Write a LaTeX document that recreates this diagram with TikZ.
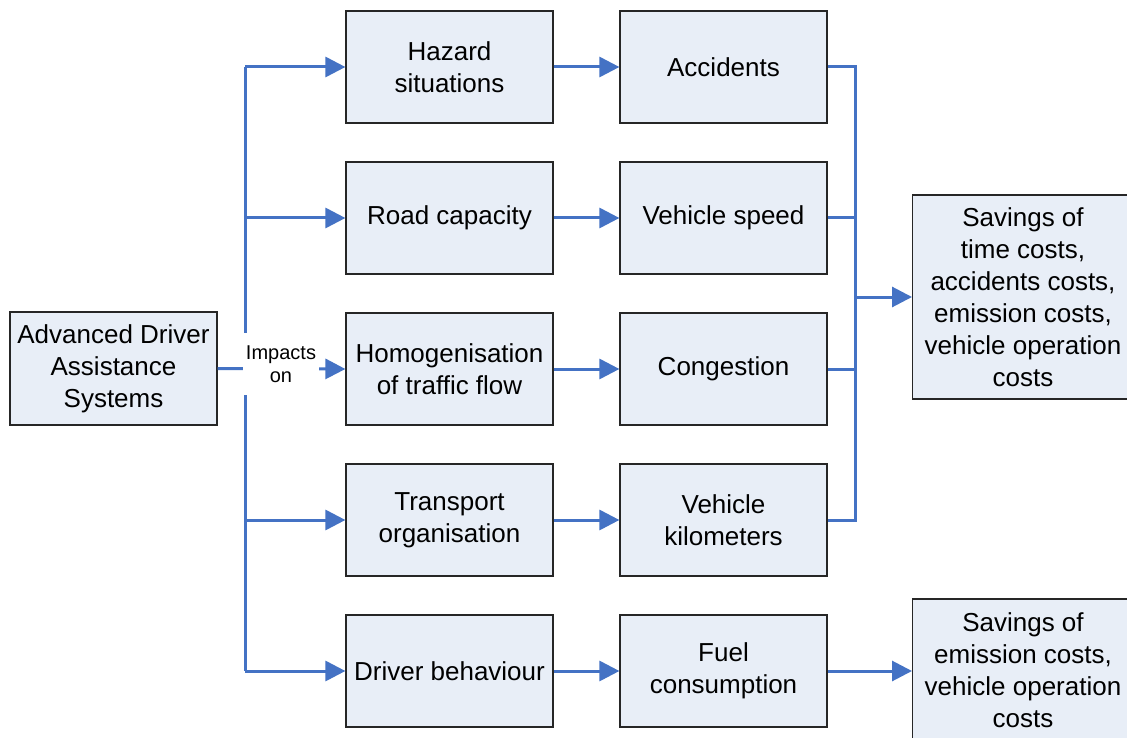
\documentclass[tikz,border=0pt]{standalone}
\usepackage{fontspec}
\setmainfont{Liberation Sans}
\usetikzlibrary{arrows.meta}
\definecolor{boxfill}{RGB}{232,238,247}
\definecolor{flow}{RGB}{68,114,196}
\tikzset{
  stepbox/.style={draw=black!85, line width=1.2pt, fill=boxfill,
    minimum width=207pt, minimum height=112pt, inner sep=0pt,
    align=center, font=\fontsize{26}{32}\selectfont},
  widebox/.style={stepbox, minimum width=240pt},
  ln/.style={draw=flow, line width=3pt},
  arr/.style={ln, -{Triangle[length=20pt,width=20pt]}},
  lbl/.style={fill=white, inner sep=0pt, minimum width=76pt, minimum height=62pt,
    align=center, font=\fontsize{20}{23}\selectfont}
}
\begin{document}
\begin{tikzpicture}[x=1pt,y=-1pt]
\useasboundingbox (0,0) rectangle (1127,738);
\clip (0,0) rectangle (1127,738);
\fill[white] (0,0) rectangle (1127,738);

% source box
\node[stepbox, minimum height=113pt] (adas) at (113.5,368.5) {Advanced Driver\\Assistance\\Systems};

% first column: direct impacts
\node[stepbox] (haz)  at (449.5,67)  {Hazard\\situations};
\node[stepbox] (cap)  at (449.5,218) {Road capacity};
\node[stepbox] (hom)  at (449.5,369) {Homogenisation\\of traffic flow};
\node[stepbox] (org)  at (449.5,520) {Transport\\organisation};
\node[stepbox] (drv)  at (449.5,671) {Driver behaviour};

% second column: effects
\node[stepbox] (acc)  at (723.5,67)  {Accidents};
\node[stepbox] (spd)  at (723.5,218) {Vehicle speed};
\node[stepbox] (cng)  at (723.5,369) {Congestion};
\node[stepbox] (vkm)  at (723.5,520) {Vehicle\\kilometers};
\node[stepbox] (fuel) at (723.5,671) {Fuel\\consumption};

% outcomes (running off the right and bottom edges)
\node[widebox, minimum height=204pt, anchor=west] (sav1) at (912,297) {};
\node[font=\fontsize{26}{32}\selectfont, align=center] (sav1t) at (1023,297) {Savings of\\time costs,\\accidents costs,\\emission costs,\\vehicle operation\\costs};
\node[widebox, minimum height=144pt, anchor=west] (sav2) at (912,671) {};
\node[font=\fontsize{26}{32}\selectfont, align=center] (sav2t) at (1023,670) {Savings of\\emission costs,\\vehicle operation\\costs};

% distribution trunk
\coordinate (tr) at (245,368);
\draw[ln] (tr |- haz.west) -- (tr |- drv.west);
\draw[arr] (tr |- haz.west) -- (haz.west);
\draw[arr] (tr |- cap.west) -- (cap.west);
\draw[arr] (adas.east) -- (hom.west);
\draw[arr] (tr |- org.west) -- (org.west);
\draw[arr] (tr |- drv.west) -- (drv.west);
\node[lbl] (imp) at (281,364) {Impacts\\on};

% column to column
\draw[arr] (haz.east) -- (acc.west);
\draw[arr] (cap.east) -- (spd.west);
\draw[arr] (hom.east) -- (cng.west);
\draw[arr] (org.east) -- (vkm.west);
\draw[arr] (drv.east) -- (fuel.west);

% collector
\coordinate (col) at (855,297);
\draw[ln] (acc.east) -- (col |- acc.east) -- (col |- vkm.east) -- (vkm.east);
\draw[ln] (spd.east) -- (col |- spd.east);
\draw[ln] (cng.east) -- (col |- cng.east);
\draw[arr] (col) -- (sav1.west);
\draw[arr] (fuel.east) -- (sav2.west);
\end{tikzpicture}
\end{document}
